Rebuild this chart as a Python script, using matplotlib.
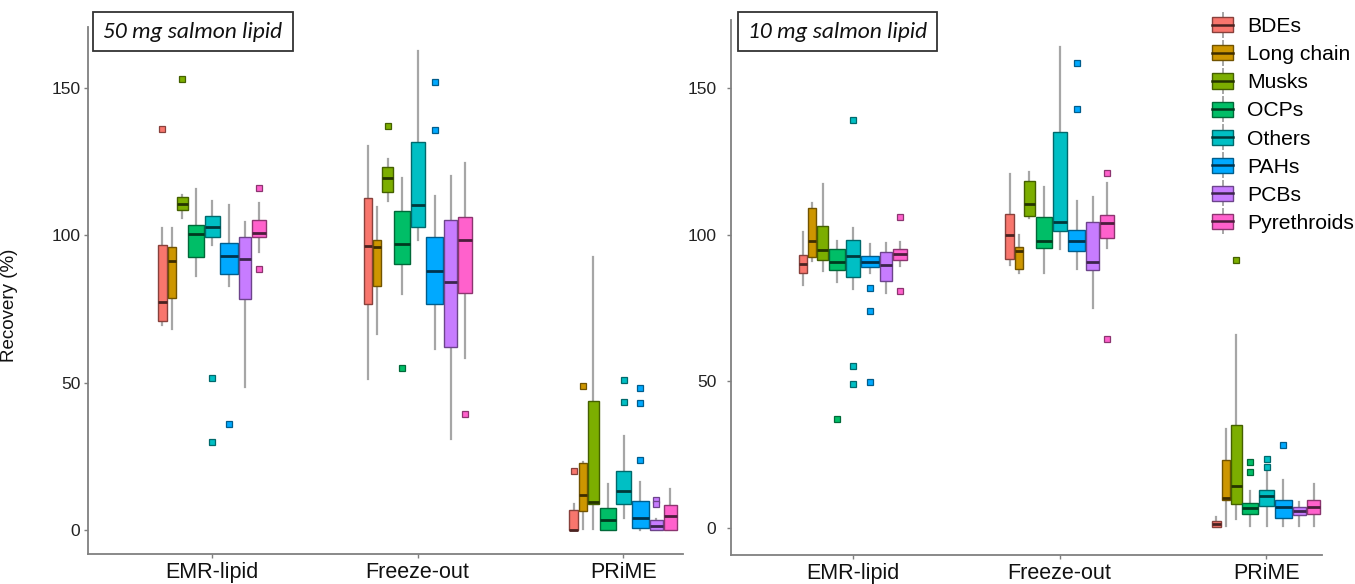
import numpy as np
import matplotlib
matplotlib.use("Agg")
import matplotlib.pyplot as plt
from matplotlib.patches import Rectangle
from matplotlib.lines import Line2D
from matplotlib.legend_handler import HandlerBase
from matplotlib.colors import to_rgb

plt.rcParams['font.family'] = ['Liberation Sans', 'DejaVu Sans']

methods = ['EMR-lipid', 'Freeze-out', 'PRiME']
classes = ['BDEs', 'Long chain', 'Musks', 'OCPs', 'Others', 'PAHs', 'PCBs', 'Pyrethroids']
colors = ['#F8766D', '#CD9600', '#7CAE00', '#00BE67', '#00BFC4', '#00A9FF', '#C77CFF', '#FF61CC']
panel_titles = ['50 mg salmon lipid', '10 mg salmon lipid']

# ---- 50 mg panel: rows = methods, columns = classes ----
p50_lo = [[69.6, 68.3, 105.9, 86.2, 96.9, 82.8, 48.6, 94.3],
          [51.4, 66.6, 111.7, 80.1, 98.6, 61.3, 30.9, 58.3],
          [0.2, 0.5, 0.5, 0.2, 4.2, 0.2, 0.2, 0.2]]
p50_q1 = [[70.9, 78.7, 108.7, 92.6, 99.3, 86.9, 78.3, 99.3],
          [76.8, 82.8, 114.8, 90.4, 102.9, 76.8, 62.0, 80.5],
          [0.2, 6.6, 8.8, 0.2, 8.9, 0.6, 0.2, 0.2]]
p50_med = [[77.3, 91.3, 110.6, 100.4, 102.8, 93.1, 92.0, 100.7],
           [96.4, 96.2, 119.4, 97.2, 110.4, 87.8, 84.1, 98.3],
           [0.2, 11.8, 9.4, 3.3, 13.3, 4.0, 1.5, 4.9]]
p50_q3 = [[96.9, 95.9, 112.9, 103.4, 106.7, 97.5, 99.6, 105.1],
          [112.8, 98.3, 123.3, 108.3, 131.7, 99.4, 105.1, 106.1],
          [6.8, 22.8, 43.8, 7.4, 20.0, 9.8, 3.3, 8.4]]
p50_hi = [[102.6, 102.4, 113.7, 115.7, 111.5, 110.4, 104.7, 111.0],
          [130.4, 109.5, 125.8, 119.6, 162.7, 113.3, 120.1, 124.6],
          [9.0, 23.1, 92.8, 15.8, 32.0, 16.2, 3.8, 14.0]]
p50_out = {(0, 0): [136.1], (0, 2): [153.0], (0, 4): [51.6, 29.9], (0, 5): [36.1],
           (0, 7): [116.2, 88.7],
           (1, 2): [137.2], (1, 3): [55.1], (1, 5): [152.2, 135.7], (1, 7): [39.3],
           (2, 0): [20.0], (2, 1): [48.8], (2, 4): [51.1, 43.5], (2, 5): [48.3, 43.0, 23.7],
           (2, 6): [10.3, 8.9]}

# ---- 10 mg panel ----
p10_lo = [[82.8, 90.9, 87.5, 83.9, 81.4, 86.9, 80.2, 89.4],
          [89.7, 86.8, 105.8, 86.8, 95.2, 88.2, 75.1, 95.6],
          [0.4, 0.7, 3.0, 0.7, 0.7, 0.7, 0.7, 0.7]]
p10_q1 = [[86.9, 92.4, 91.5, 87.9, 85.5, 89.0, 84.3, 91.3],
          [91.6, 88.2, 106.5, 95.6, 101.3, 94.3, 87.9, 99.0],
          [0.4, 9.4, 8.2, 4.8, 7.6, 3.5, 4.3, 4.8]]
p10_med = [[90.0, 98.0, 94.9, 90.8, 92.8, 90.7, 89.7, 93.4],
           [99.9, 94.5, 110.5, 98.0, 104.4, 97.7, 90.6, 104.1],
           [1.5, 10.3, 14.2, 6.9, 10.9, 7.1, 5.9, 7.2]]
p10_q3 = [[93.2, 109.2, 103.1, 95.2, 98.1, 92.7, 94.1, 95.1],
          [107.2, 95.7, 118.2, 106.0, 134.9, 101.7, 104.2, 106.8],
          [2.4, 23.3, 35.2, 8.4, 12.9, 9.6, 7.2, 9.4]]
p10_hi = [[100.8, 110.7, 117.3, 97.7, 102.2, 96.8, 97.3, 97.5],
          [120.7, 99.9, 121.3, 116.4, 164.1, 111.6, 113.0, 117.7],
          [3.9, 33.6, 65.7, 12.7, 19.5, 16.4, 8.8, 15.0]]
p10_out = {(0, 3): [37.2], (0, 4): [139.0, 55.2, 49.1], (0, 5): [81.7, 73.9, 49.9],
           (0, 7): [105.9, 80.8],
           (1, 5): [158.5, 142.7], (1, 7): [121.0, 64.5],
           (2, 2): [91.4], (2, 3): [22.4, 19.0], (2, 4): [23.6, 20.8], (2, 5): [28.3]}

# relative box widths (varwidth look), in pixels at 206 px per category
box_px = np.array([8.7, 8.2, 11.0, 16.0, 14.5, 17.5, 12.8, 13.8])
gap_px = 0.8
px_per_unit = 206.0


def darker(c, f=0.55):
    r, g, b = to_rgb(c)
    return (r * f, g * f, b * f)


def offsets():
    w = box_px / px_per_unit
    g = gap_px / px_per_unit
    total = w.sum() + g * (len(w) - 1)
    left = -total / 2 + np.concatenate([[0], np.cumsum(w[:-1] + g)])
    return left + w / 2, w


def draw_panel(ax, lo, q1, med, q3, hi, out, ypad):
    offs, widths = offsets()
    for gi in range(len(methods)):
        for ci in range(len(classes)):
            st = dict(whislo=lo[gi][ci], q1=q1[gi][ci], med=med[gi][ci],
                      q3=q3[gi][ci], whishi=hi[gi][ci],
                      fliers=out.get((gi, ci), []))
            col = colors[ci]
            ax.bxp([st], positions=[gi + 1 + offs[ci]], widths=[widths[ci]],
                   patch_artist=True, showcaps=False, manage_ticks=False,
                   boxprops=dict(facecolor=col, edgecolor=darker(col), linewidth=1.0, zorder=3),
                   medianprops=dict(color=darker(col, 0.3), linewidth=2.0, zorder=4),
                   whiskerprops=dict(color='#a6a6a6', linewidth=1.6, zorder=2),
                   flierprops=dict(marker='s', markersize=4.5, markerfacecolor=col,
                                   markeredgecolor=darker(col), markeredgewidth=0.9,
                                   linestyle='none', zorder=5))
    ax.set_xticks(range(1, len(methods) + 1))
    ax.set_xticklabels(methods, fontsize=15.5, color='#111111')
    ax.set_yticks([0, 50, 100, 150])
    ax.tick_params(axis='y', labelsize=12.5, colors='#7f7f7f', labelcolor='#222222',
                   length=3, width=1, pad=ypad)
    ax.tick_params(axis='x', colors='#7f7f7f', labelcolor='#111111', length=3, width=1, pad=3)
    for s in ['top', 'right']:
        ax.spines[s].set_visible(False)
    for s in ['left', 'bottom']:
        ax.spines[s].set_color('#808080')
        ax.spines[s].set_linewidth(1.3)


class BoxHandler(HandlerBase):
    def create_artists(self, legend, orig_handle, xdescent, ydescent, width, height,
                       fontsize, trans):
        col = orig_handle.get_color()
        cx = width / 2 - xdescent
        vline = Line2D([cx, cx], [-ydescent - 0.3 * height, height * 1.3 - ydescent],
                       color='#a6a6a6', lw=1.4, transform=trans)
        rect = Rectangle((-xdescent, -ydescent), width, height,
                         facecolor=col, edgecolor=darker(col), lw=1.0, transform=trans)
        mline = Line2D([-xdescent, width - xdescent], [height / 2 - ydescent] * 2,
                       color=darker(col, 0.3), lw=1.8, transform=trans)
        return [vline, rect, mline]


W, H = 1355, 584
fig = plt.figure(figsize=(W / 100, H / 100), dpi=100)
ax1 = fig.add_axes([88 / W, (H - 554) / H, 595 / W, 527 / H])
ax2 = fig.add_axes([731 / W, (H - 555) / H, 591 / W, 535 / H])

draw_panel(ax1, p50_lo, p50_q1, p50_med, p50_q3, p50_hi, p50_out, ypad=2.5)
draw_panel(ax2, p10_lo, p10_q1, p10_med, p10_q3, p10_hi, p10_out, ypad=7.5)

ax1.set_xlim(0.397, 3.29)
ax1.set_ylim(-8.1, 170.7)
ax2.set_xlim(0.41, 3.27)
ax2.set_ylim(-9.2, 173.2)

ax1.set_ylabel('Recovery (%)', fontsize=13.5, color='#111111')
ax1.yaxis.set_label_coords(-0.118, 0.472)

# panel title boxes
for (x0, x1), title in zip([(93, 293), (738, 937)], panel_titles):
    fig.patches.append(Rectangle((x0 / W, (H - 51) / H), (x1 - x0) / W, 39 / H,
                                 transform=fig.transFigure, facecolor='white',
                                 edgecolor='#333333', lw=1.3, zorder=10))
    fig.text((x0 + x1) / 2 / W, (H - 31.5) / H, title, ha='center', va='center',
             fontsize=16.8, style='italic', family=['Carlito', 'Lato', 'DejaVu Sans'],
             color='#111111', zorder=11)

handles = [Line2D([], [], color=c) for c in colors]
leg = fig.legend(handles, classes, loc='upper left', bbox_to_anchor=(1208 / W, 1 - 13 / H),
                 frameon=False, fontsize=15.2, handler_map={Line2D: BoxHandler()},
                 handlelength=1.0, handleheight=0.72, handletextpad=0.66,
                 labelspacing=0.43, borderpad=0.2, borderaxespad=0)

fig.savefig('out.png', dpi=100)
